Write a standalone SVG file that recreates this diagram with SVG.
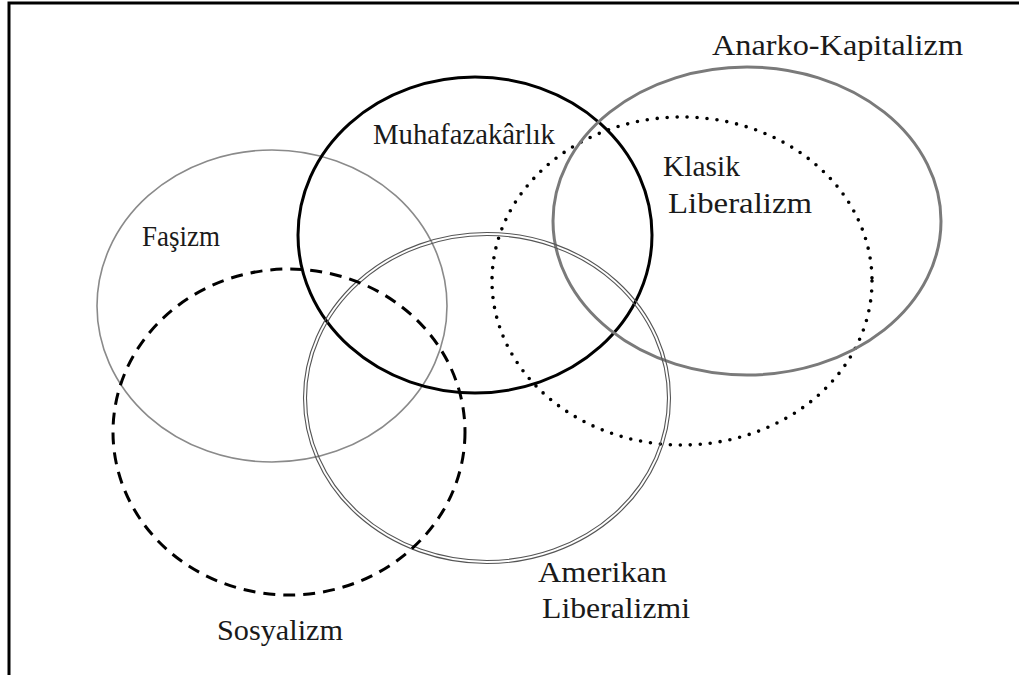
<svg xmlns="http://www.w3.org/2000/svg" width="1019" height="675" viewBox="0 0 1019 675">
<style>
.lbl{font-family:"Liberation Serif","Times New Roman",serif;fill:#1a1a1a;font-size:29px;}
.c{fill:none;}
.fas{stroke:#8a8a8a;stroke-width:1.6;}
.muh{stroke:#000;stroke-width:3;}
.kla{stroke:#000;stroke-width:3.6;stroke-dasharray:0 10;stroke-linecap:round;}
.ana{stroke:#7a7a7a;stroke-width:3;}
.ame{stroke:#555;stroke-width:1.1;}
.sos{stroke:#000;stroke-width:3;stroke-dasharray:12 8;}
</style>
<rect x="0" y="0" width="1019" height="675" fill="#fff"/>
<path d="M9,675 V3 H1019" fill="none" stroke="#000" stroke-width="3"/>
<g id="connectors"></g>
<g id="fasizm">
<ellipse class="c fas" cx="272" cy="306" rx="175" ry="156"/>
<text class="lbl" x="142" y="246" font-size="28" textLength="78" lengthAdjust="spacingAndGlyphs">Faşizm</text>
</g>
<g id="muhafazakarlik">
<ellipse class="c muh" cx="475" cy="235" rx="177" ry="158"/>
<text class="lbl" x="373" y="144" textLength="182" lengthAdjust="spacingAndGlyphs">Muhafazakârlık</text>
</g>
<g id="klasik-liberalizm">
<ellipse class="c kla" cx="682" cy="281" rx="190" ry="164"/>
<text class="lbl" x="663" y="176" textLength="77" lengthAdjust="spacingAndGlyphs">Klasik</text>
<text class="lbl" x="668" y="213" textLength="144" lengthAdjust="spacingAndGlyphs">Liberalizm</text>
</g>
<g id="anarko-kapitalizm">
<ellipse class="c ana" cx="747" cy="221" rx="194" ry="154"/>
<text class="lbl" x="712" y="55" font-size="30" textLength="251" lengthAdjust="spacingAndGlyphs">Anarko-Kapitalizm</text>
</g>
<g id="amerikan-liberalizmi">
<ellipse class="c ame" cx="487" cy="398" rx="183.5" ry="165.5"/>
<ellipse class="c ame" cx="487" cy="398" rx="180.5" ry="162.5"/>
<text class="lbl" x="538" y="582" textLength="129" lengthAdjust="spacingAndGlyphs">Amerikan</text>
<text class="lbl" x="542" y="618" textLength="148" lengthAdjust="spacingAndGlyphs">Liberalizmi</text>
</g>
<g id="sosyalizm">
<ellipse class="c sos" cx="289" cy="432" rx="176" ry="163"/>
<text class="lbl" x="217" y="640" textLength="126" lengthAdjust="spacingAndGlyphs">Sosyalizm</text>
</g>
</svg>
